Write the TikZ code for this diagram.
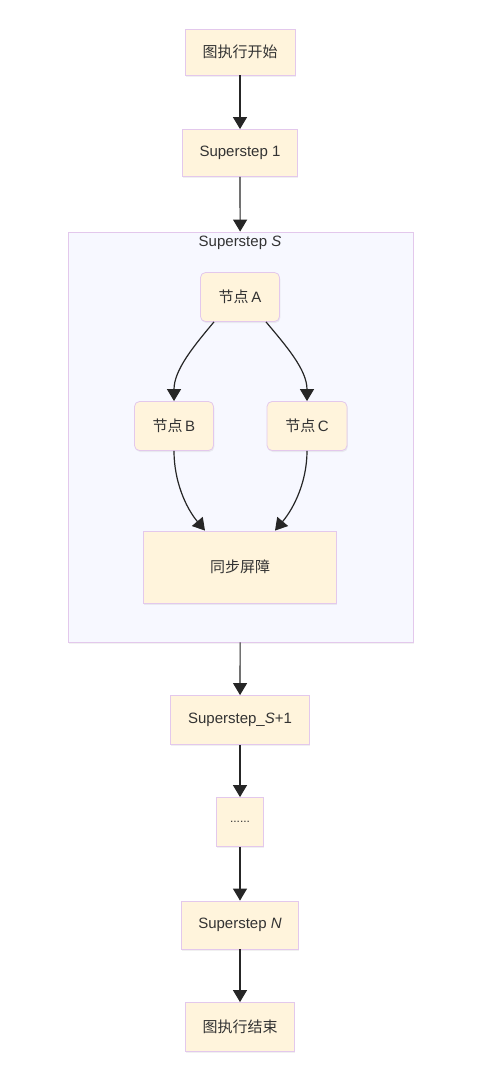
\documentclass[tikz,border=0pt]{standalone}
\usepackage{fontspec}
\setmainfont{Liberation Sans}
\newfontfamily\cjk{Noto Sans CJK SC}
\usetikzlibrary{positioning}
\usetikzlibrary{fit}
\usetikzlibrary{arrows.meta}
\usetikzlibrary{shadows}
\definecolor{boxfill}{HTML}{FFF4DC}
\definecolor{boxline}{HTML}{E3C8EC}
\definecolor{groupfill}{HTML}{F7F8FF}
\definecolor{txt}{HTML}{333333}
\tikzset{>={Triangle[length=12pt,width=14pt]}}
\tikzset{stepbox/.style={draw=boxline, fill=boxfill, line width=0.8pt, text=txt,
  font=\fontsize{15pt}{18pt}\selectfont, inner sep=0pt,
  drop shadow={shadow xshift=0.8pt, shadow yshift=-1.5pt, opacity=0.12}}}
\tikzset{vbox/.style={stepbox, rounded corners=5pt}}
\tikzset{link/.style={->, line width=1.2pt, color=black!85}}

\begin{document}
\begin{tikzpicture}[on grid]
    \useasboundingbox (0pt,0pt) rectangle (480pt,-1066pt);

    \node[stepbox, minimum width=110pt, minimum height=46pt] (start) at (240pt,-52pt) {\cjk 图执行开始};
    \node[stepbox, minimum width=115pt, minimum height=47pt, below=101pt of start] (ss1) {Superstep 1};

    % group for superstep S
    \coordinate (grp_nw) at (68pt,-232pt);
    \coordinate (grp_se) at (413pt,-642pt);
    \node[draw=boxline, fill=groupfill, line width=0.8pt, inner sep=0pt,
      drop shadow={shadow xshift=1pt, shadow yshift=-1.5pt, opacity=0.1},
      fit=(grp_nw) (grp_se)] (grp) {};
    \node[text=txt, font=\fontsize{15pt}{18pt}\selectfont] (grp_title) at (240pt,-243pt) {Superstep \textit{S}};

    \node[vbox, minimum width=79pt, minimum height=49pt] (na) at (240pt,-297pt) {{\cjk 节点}\,A};
    \node[vbox, minimum width=79pt, minimum height=49pt, below left=129pt and 66pt of na] (nb) {{\cjk 节点}\,B};
    \node[vbox, minimum width=80pt, minimum height=49pt, below right=129pt and 67pt of na] (nc) {{\cjk 节点}\,C};
    \node[stepbox, minimum width=193pt, minimum height=72pt, below=270pt of na] (sync) {\cjk 同步屏障};

    \node[stepbox, minimum width=139pt, minimum height=49pt] (ss_next) at (240pt,-720pt) {Superstep\_\textit{S}+1};
    \node[stepbox, minimum width=47pt, minimum height=49pt, below=102pt of ss_next] (dots) {\fontsize{12pt}{14pt}\selectfont ......};
    \node[stepbox, minimum width=117pt, minimum height=48pt, below=103pt of dots] (ssN) {Superstep \textit{N}};
    \node[stepbox, minimum width=109pt, minimum height=49pt, below=102pt of ssN] (end) {\cjk 图执行结束};

    \draw [link] (start) -- (ss1);
    \draw [link] (ss1) -- (grp);

    \draw [link] ([xshift=-26pt]na.south) to[out=-130, in=90, looseness=0.9] (nb.north);
    \draw [link] ([xshift=26pt]na.south) to[out=-50, in=90, looseness=0.9] (nc.north);
    \draw [link] (nb.south) to[out=-90, in=130, looseness=0.9] ([xshift=-35pt]sync.north);
    \draw [link] (nc.south) to[out=-90, in=50, looseness=0.9] ([xshift=35pt]sync.north);

    \draw [link] (grp) -- (ss_next);
    \draw [link] (ss_next) -- (dots);
    \draw [link] (dots) -- (ssN);
    \draw [link] (ssN) -- (end);
\end{tikzpicture}
\end{document}
